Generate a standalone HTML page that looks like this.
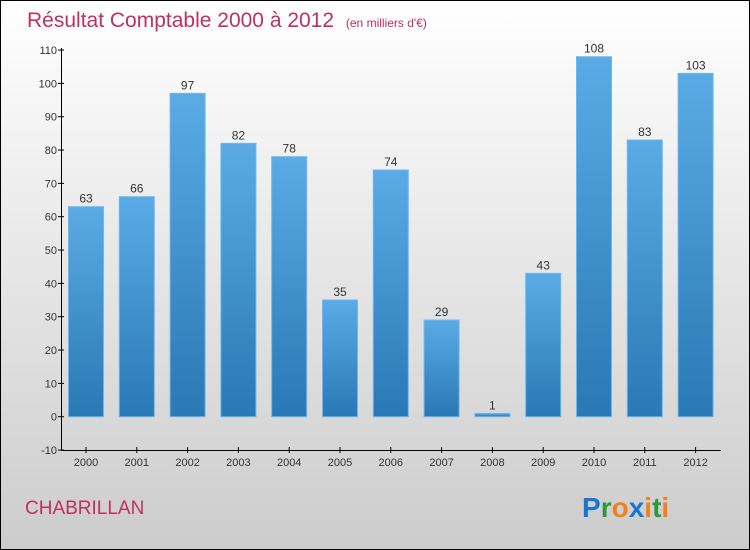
<!DOCTYPE html>
<html><head><meta charset="utf-8"><style>
body{margin:0;width:750px;height:550px;overflow:hidden}
svg{display:block;font-family:"Liberation Sans",sans-serif}
</style></head><body>
<svg width="750" height="550">
<defs>
<linearGradient id="bg" x1="0" y1="0" x2="0" y2="1"><stop offset="0" stop-color="#ffffff"/><stop offset="1" stop-color="#cccccc"/></linearGradient>
<linearGradient id="bar" x1="0" y1="0" x2="0" y2="1"><stop offset="0" stop-color="#5aabe5"/><stop offset="1" stop-color="#2a78b5"/></linearGradient>
</defs>
<rect x="0.5" y="0.5" width="749" height="549" fill="url(#bg)" stroke="#000"/>
<text x="27" y="27" font-size="21" fill="#c0305f">Résultat Comptable 2000 à 2012 <tspan font-size="12" dx="6">(en milliers d'€)</tspan></text>
<text x="25" y="514" font-size="19" fill="#c0305f">CHABRILLAN</text>
<text x="582" y="517" font-size="28" font-weight="bold"><tspan fill="#1a75d0">P</tspan><tspan fill="#2a9a3a">r</tspan><tspan fill="#f08020">o</tspan><tspan fill="#1a75d0">x</tspan><tspan fill="#f08020">i</tspan><tspan fill="#2a9a3a">t</tspan><tspan fill="#f08020">i</tspan></text>
<g id="plot"></g>
</svg>
<script>
const categories=["2000","2001","2002","2003","2004","2005","2006","2007","2008","2009","2010","2011","2012"];
const values=[63,66,97,82,78,35,74,29,1,43,108,83,103];
const yTicks=[-10,0,10,20,30,40,50,60,70,80,90,100,110];
const NS="http://www.w3.org/2000/svg";
const g=document.getElementById('plot');
const y=v=>416.7-(v)*400/120;
const x=i=>86+i*50.8;
function el(t,a,txt){const e=document.createElementNS(NS,t);for(const k in a)e.setAttribute(k,a[k]);if(txt!=null)e.textContent=txt;g.appendChild(e);return e;}
let ax=el('line',{x1:61.5,y1:48,x2:61.5,y2:450,stroke:'#000'});


let bx=el('line',{x1:61,y1:450.5,x2:721,y2:450.5,stroke:'#000'});


yTicks.forEach(v=>{
 let t=el('line',{x1:58,y1:y(v),x2:64,y2:y(v),stroke:'#000'});
 
 
 let l=el('text',{x:57,y:y(v)+4,'font-size':11,fill:'#333','text-anchor':'end'},v);
 
 
});
categories.forEach((c,i)=>{
 const v=values[i],cx=x(i),top=y(Math.max(v,0)),bot=y(Math.min(v,0));
 let b=el('rect',{x:cx-17.5,y:top,width:35,height:Math.max(bot-top,1),fill:'url(#bar)',stroke:'#6ab8ee','stroke-width':1});
 
 
 let vl=el('text',{x:cx,y:top-4,'font-size':12,fill:'#333','text-anchor':'middle'},v);
 
 
 let t=el('line',{x1:cx,y1:447,x2:cx,y2:453,stroke:'#000'});
 
 
 let xl=el('text',{x:cx,y:466,'font-size':11,fill:'#333','text-anchor':'middle'},c);
 
 
});
</script>
</body></html>
